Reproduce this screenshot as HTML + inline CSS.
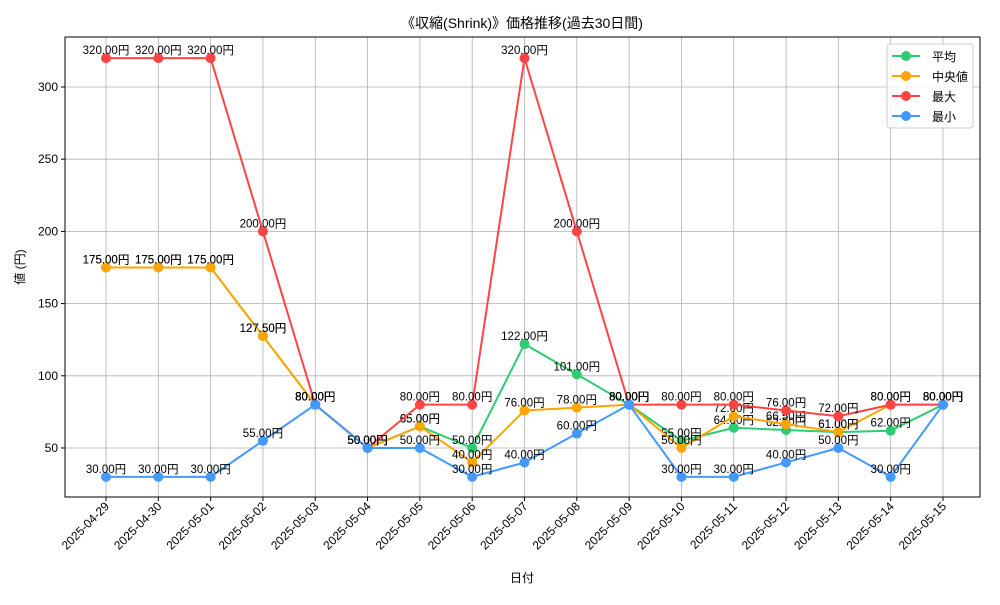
<!DOCTYPE html>
<html><head><meta charset="utf-8"><style>
body{margin:0;background:#fff;font-family:"Liberation Sans","Noto Sans CJK JP",sans-serif}
svg text{font-family:"Liberation Sans","Noto Sans CJK JP",sans-serif}
</style></head><body>
<svg id="c" width="1000" height="600" xmlns="http://www.w3.org/2000/svg"></svg>
<script>
const dates=["2025-04-29","2025-04-30","2025-05-01","2025-05-02","2025-05-03","2025-05-04","2025-05-05","2025-05-06","2025-05-07","2025-05-08","2025-05-09","2025-05-10","2025-05-11","2025-05-12","2025-05-13","2025-05-14","2025-05-15"];
const avgVals=[175,175,175,127.5,80,50,65,50,122,101,80,55,64,62.5,61,62,80];
const medVals=[175,175,175,127.5,80,50,65,40,76,78,80,50,72,66.5,61,80,80];
const maxVals=[320,320,320,200,80,50,80,80,320,200,80,80,80,76,72,80,80];
const minVals=[30,30,30,55,80,50,50,30,40,60,80,30,30,40,50,30,80];
const yTicks=[50,100,150,200,250,300];
const seriesNames=["平均","中央値","最大","最小"];
const colors=["#2ecc71","#ffa500","#ff4444","#4499ff"];
const svg=document.getElementById('c');const NS="http://www.w3.org/2000/svg";
function mk(t,a,p){const e=document.createElementNS(NS,t);for(const k in a)e.setAttribute(k,a[k]);(p||svg).appendChild(e);return e;}
const L=65,R=980,T=37,B=497;
const xs=i=>106+i*(943-106)/(dates.length-1);
const ys=v=>448-(v-50)*(361/250);
// grid
dates.forEach((d,i)=>{const g=mk('line',{x1:xs(i),x2:xs(i),y1:T,y2:B,stroke:'#b0b0b0','stroke-width':0.8});
 mk('line',{x1:xs(i),x2:xs(i),y1:B,y2:B+4,stroke:'#000'});
 const t=mk('text',{x:0,y:0,'font-size':12,'text-anchor':'end',transform:`translate(${xs(i)+4},${B+10}) rotate(-45)`});t.textContent=d;});
yTicks.forEach(v=>{const g=mk('line',{x1:L,x2:R,y1:ys(v),y2:ys(v),stroke:'#b0b0b0','stroke-width':0.8});
 mk('line',{x1:L-4,x2:L,y1:ys(v),y2:ys(v),stroke:'#000'});
 const t=mk('text',{x:L-7,y:ys(v)+4,'font-size':12,'text-anchor':'end'});t.textContent=v;});
const fr=mk('rect',{x:L,y:T,width:R-L,height:B-T,fill:'none',stroke:'#000','stroke-width':1});
const all=[avgVals,medVals,maxVals,minVals];
all.forEach((vals,s)=>{const g=mk('g',{});
 mk('polyline',{points:vals.map((v,i)=>xs(i)+','+ys(v)).join(' '),fill:'none',stroke:colors[s],'stroke-width':2},g);
 vals.forEach((v,i)=>{const c=mk('circle',{cx:xs(i),cy:ys(v),r:5,fill:colors[s]},g);
  const t=mk('text',{x:xs(i),y:ys(v)-4,'font-size':11.5,'text-anchor':'middle'},g);t.textContent=v.toFixed(2)+'円';});});
const ti=mk('text',{x:522,y:28,'font-size':14,'text-anchor':'middle'});ti.textContent='《収縮(Shrink)》価格推移(過去30日間)';
const xt=mk('text',{x:522,y:582,'font-size':12,'text-anchor':'middle'});xt.textContent='日付';
const yt=mk('text',{x:0,y:0,'font-size':12,'text-anchor':'middle',transform:'translate(24,267) rotate(-90)'});yt.textContent='値 (円)';
const lg=mk('g',{});
mk('rect',{x:887,y:44,width:86,height:84,rx:3,fill:'#fff','fill-opacity':0.85,stroke:'#ccc'},lg);
seriesNames.forEach((n,s)=>{const y=56+s*20;const e=mk('g',{},lg);
 mk('line',{x1:892,x2:920,y1:y,y2:y,stroke:colors[s],'stroke-width':2},e);mk('circle',{cx:906,cy:y,r:5,fill:colors[s]},e);
 const t=mk('text',{x:932,y:y+5,'font-size':12},e);t.textContent=n;});
</script></body></html>
